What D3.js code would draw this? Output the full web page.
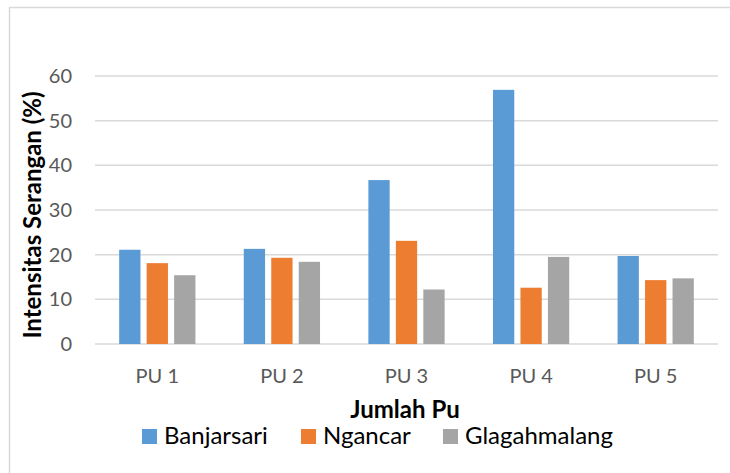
<!DOCTYPE html>
<html>
<head>
<meta charset="utf-8">
<script src="https://cdn.jsdelivr.net/npm/d3@7"></script>
<style>
  body { margin: 0; background: #fff; }
  text { font-family: Lato, "Open Sans", sans-serif; }
</style>
</head>
<body>
<div id="chart"></div>
<script>
// data
const categories = ['PU 1', 'PU 2', 'PU 3', 'PU 4', 'PU 5'];
const seriesNames = ['Banjarsari', 'Ngancar', 'Glagahmalang'];
const banjarsari = [21.1, 21.3, 36.7, 56.9, 19.7];
const ngancar = [18.1, 19.3, 23.1, 12.6, 14.3];
const glagahmalang = [15.4, 18.4, 12.2, 19.5, 14.7];
const yTicks = [0, 10, 20, 30, 40, 50, 60];
const colors = ['#5b9bd5', '#ed7d31', '#a5a5a5'];

const seriesValues = [banjarsari, ngancar, glagahmalang];

const width = 730, height = 473;
const margin = {top: 76, right: 12, bottom: 129, left: 95};
const innerW = width - margin.left - margin.right;
const innerH = height - margin.top - margin.bottom;

const svg = d3.select('#chart').append('svg')
  .attr('width', width)
  .attr('height', height);

// chart frame (only left + top edges show in the crop)
svg.append('path')
  .attr('d', 'M9.5,' + height + 'V7.5H' + width)
  .attr('fill', 'none')
  .attr('stroke', '#d9d9d9')
  .attr('stroke-width', 1.5);

const g = svg.append('g')
  .attr('transform', 'translate(' + margin.left + ',' + margin.top + ')');

const y = d3.scaleLinear().domain([0, 60]).range([innerH, 0]);
const x0 = d3.scaleBand().domain(categories).range([0, innerW]).paddingInner(0.388).paddingOuter(0.194);
const x1 = d3.scaleBand().domain(seriesNames).range([0, x0.bandwidth()]).paddingInner(0.225);

// gridlines
g.append('g')
  .selectAll('line')
  .data(yTicks)
  .enter()
  .append('line')
  .attr('x1', 0)
  .attr('x2', innerW)
  .attr('y1', d => y(d))
  .attr('y2', d => y(d))
  .attr('stroke', '#d9d9d9')
  .attr('stroke-width', 1.5);

// y axis labels
const yAxis = g.append('g')
  .attr('transform', 'translate(-23,0)')
  .call(d3.axisLeft(y).tickValues(yTicks).tickSize(0).tickPadding(0));
yAxis.select('.domain').remove();
yAxis.selectAll('text')
  .attr('fill', '#595959')
  .style('font-size', '20px')
  .style('font-family', 'Lato, sans-serif');

// bars
const groups = g.selectAll('.grp')
  .data(categories)
  .enter()
  .append('g')
  .attr('class', 'grp')
  .attr('transform', d => 'translate(' + x0(d) + ',0)');

groups.selectAll('rect')
  .data((d, i) => seriesNames.map((s, j) => ({s: s, j: j, v: seriesValues[j][i]})))
  .enter()
  .append('rect')
  .attr('x', d => x1(d.s))
  .attr('width', x1.bandwidth())
  .attr('y', d => y(d.v))
  .attr('height', d => y(0) - y(d.v))
  .attr('fill', d => colors[d.j]);

// x axis labels
const xAxis = g.append('g')
  .attr('transform', 'translate(0,' + innerH + ')')
  .call(d3.axisBottom(x0).tickSize(0).tickPadding(0));
xAxis.select('.domain').remove();
xAxis.selectAll('text')
  .attr('dy', null)
  .attr('y', 39)
  .attr('fill', '#595959')
  .style('font-size', '20px')
  .style('font-family', 'Lato, sans-serif');

// axis titles
svg.append('text')
  .attr('transform', 'translate(41,215) rotate(-90)')
  .attr('text-anchor', 'middle')
  .style('font-size', '24px')
  .style('font-weight', 'bold')
  .attr('fill', '#000')
  .text('Intensitas Serangan (%)');

svg.append('text')
  .attr('x', 405)
  .attr('y', 418)
  .attr('text-anchor', 'middle')
  .style('font-size', '24px')
  .style('font-weight', 'bold')
  .attr('fill', '#000')
  .text('Jumlah Pu');

// legend
const legendX = [142, 301, 443];
const legend = svg.append('g')
  .selectAll('g')
  .data(seriesNames)
  .enter()
  .append('g')
  .attr('transform', (d, i) => 'translate(' + legendX[i] + ',429)');
legend.append('rect')
  .attr('width', 15)
  .attr('height', 15)
  .attr('fill', (d, i) => colors[i]);
legend.append('text')
  .attr('x', 22)
  .attr('y', 15)
  .style('font-size', '24px')
  .attr('fill', '#000')
  .text(d => d);
</script>
</body>
</html>
